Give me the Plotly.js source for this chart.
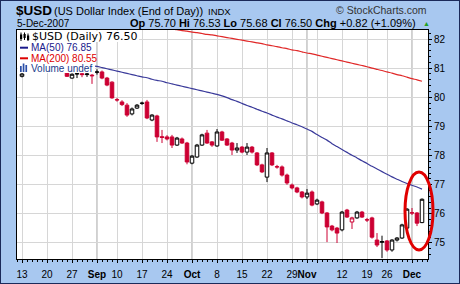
<!DOCTYPE html>
<html><head><meta charset="utf-8">
<script src="https://cdn.plot.ly/plotly-3.0.1.min.js"></script>
<style>
html,body{margin:0;padding:0;background:#a8c8f0;}
#wrap{position:relative;width:460px;height:284px;overflow:hidden;}
#chart{width:460px;height:284px;}
#frame{position:absolute;left:0;top:0;width:458px;height:282px;border:1px solid #1b2a5a;pointer-events:none;}
</style></head><body>
<div id="wrap"><div id="chart"></div><div id="frame"></div></div>
<script>
// ---- categories: trading days 13-Aug-2007 .. 5-Dec-2007 ----
const firstDay = '2007-08-13', lastDay = '2007-12-05';
const holidays = ['2007-09-03', '2007-11-22'];
const dates = [];
for (let d = new Date(firstDay + 'T00:00:00Z'); d <= new Date(lastDay + 'T00:00:00Z'); d.setUTCDate(d.getUTCDate() + 1)) {
  const wd = d.getUTCDay(), s = d.toISOString().slice(0, 10);
  if (wd !== 0 && wd !== 6 && holidays.indexOf(s) < 0) dates.push(s);
}

// ---- daily OHLC ----
const open  = [80.72,80.90,81.00,81.15,81.05,81.20,81.10,81.00,81.05,80.85,80.66,80.80,80.81,80.78,80.76,80.86,80.87,80.66,80.52,79.92,
               79.84,79.73,79.43,79.63,79.79,79.84,79.22,79.36,78.65,78.64,78.64,78.36,78.57,78.43,77.74,77.95,78.36,78.77,78.47,78.33,
               78.81,78.57,78.43,78.19,78.29,78.12,78.29,78.09,77.68,77.26,78.09,77.62,77.61,77.33,76.99,76.89,76.75,76.58,76.75,76.34,
               76.41,76.03,75.58,75.51,75.45,76.13,75.72,75.86,76.06,75.80,75.86,75.10,75.02,75.07,74.76,75.10,75.17,75.51,76.04,76.03,75.70];
const high  = [80.85,81.08,81.22,81.25,81.30,81.28,81.18,81.12,81.10,80.88,80.82,80.82,80.84,80.84,80.80,80.96,80.92,80.70,80.55,79.98,
               79.90,79.80,79.65,79.77,79.85,79.91,79.42,79.40,78.88,78.70,78.71,78.64,78.62,78.47,78.02,78.40,78.75,78.88,78.50,78.91,
               78.85,78.60,78.47,78.43,78.33,78.43,78.33,78.12,77.72,78.26,78.12,77.68,77.66,77.38,77.04,76.93,76.78,76.85,76.80,76.52,
               76.45,76.06,75.62,75.55,76.10,76.17,75.90,76.10,76.10,75.86,75.90,75.34,75.25,75.10,75.13,75.20,75.66,76.20,76.20,76.06,76.53];
const low   = [80.68,80.88,80.95,81.00,81.00,81.02,80.92,80.93,80.88,80.70,80.64,80.66,80.69,80.70,80.46,80.78,80.62,80.38,79.95,79.85,
               79.70,79.33,79.38,79.60,79.74,79.25,79.18,78.47,78.43,78.52,78.26,78.33,78.40,77.70,77.70,77.92,78.33,78.40,78.30,78.30,
               78.50,78.33,78.02,78.09,78.08,78.02,78.07,77.64,77.40,77.09,77.64,77.55,77.28,77.00,76.84,76.71,76.53,76.51,76.26,76.30,
               75.99,75.03,75.40,75.00,75.40,75.86,75.48,75.83,75.86,75.72,75.15,74.86,74.48,74.70,74.70,75.05,75.14,75.48,75.96,75.58,75.68];
const close = [80.80,81.00,81.15,81.05,81.20,81.10,81.00,81.05,80.95,80.72,80.79,80.81,80.78,80.80,80.74,80.87,80.66,80.42,79.98,79.91,
               79.75,79.39,79.60,79.73,79.80,79.29,79.39,78.64,78.62,78.57,78.36,78.60,78.43,77.78,77.98,78.36,78.71,78.43,78.36,78.81,
               78.53,78.36,78.19,78.26,78.12,78.29,78.12,77.68,77.44,78.09,77.68,77.61,77.33,77.06,76.89,76.75,76.58,76.71,76.30,76.47,
               76.03,75.55,75.45,75.34,76.06,75.89,75.86,76.06,75.89,75.79,75.20,74.93,75.05,74.76,75.10,75.17,75.62,76.16,76.03,75.68,76.50];
// ---- moving averages ----
const ma50  = [81.30,81.29,81.28,81.27,81.26,81.25,81.24,81.23,81.21,81.19,81.17,81.15,81.13,81.11,81.09,81.06,81.02,80.98,80.94,80.90,
               80.86,80.82,80.78,80.74,80.70,80.67,80.62,80.58,80.55,80.50,80.46,80.42,80.38,80.34,80.30,80.26,80.22,80.18,80.14,80.10,
               80.05,79.99,79.92,79.86,79.79,79.72,79.66,79.59,79.52,79.46,79.39,79.32,79.26,79.19,79.12,79.06,78.99,78.91,78.83,78.72,
               78.62,78.53,78.41,78.31,78.21,78.11,78.01,77.92,77.82,77.73,77.63,77.54,77.45,77.36,77.27,77.19,77.11,77.04,76.98,76.92,76.85];
const ma200 = [82.83,82.82,82.81,82.80,82.79,82.78,82.77,82.75,82.74,82.73,82.72,82.70,82.69,82.67,82.66,82.64,82.62,82.61,82.59,82.57,
               82.55,82.53,82.51,82.49,82.47,82.45,82.43,82.41,82.39,82.36,82.34,82.32,82.29,82.27,82.24,82.22,82.19,82.16,82.14,82.11,
               82.08,82.05,82.02,81.99,81.96,81.93,81.90,81.87,81.84,81.80,81.77,81.74,81.70,81.67,81.63,81.60,81.56,81.52,81.49,81.45,
               81.41,81.37,81.33,81.29,81.25,81.21,81.17,81.13,81.09,81.05,81.00,80.96,80.92,80.87,80.83,80.78,80.74,80.69,80.64,80.60,80.55];
const quoteChangePct = 1.09;
// ---- x tick labels ----
const tickDates = ['2007-08-13','2007-08-20','2007-08-27','2007-09-04','2007-09-10','2007-09-17','2007-09-24','2007-10-01','2007-10-08',
                   '2007-10-15','2007-10-22','2007-10-29','2007-11-01','2007-11-05','2007-11-12','2007-11-19','2007-11-26','2007-12-03'];
const tickText  = ['13','20','27','<b>Sep</b>','10','17','24','<b>Oct</b>','8','15','22','29','<b>Nov</b>','','12','19','26','<b>Dec</b>'];
const monthStarts = ['2007-09-04','2007-10-01','2007-11-01','2007-12-03'];
const yTicks = [75,76,77,78,79,80,81,82];

// ---- build ----
const idx = dates.map((_, i) => i);
const RED = '#cc0033', BLK = '#000000';
const sets = {black: [], red: []};
idx.forEach(i => { (i > 0 && close[i] < close[i - 1] ? sets.red : sets.black).push(i); });
function candle(list, col) {
  return {
    type: 'candlestick', x: list, open: list.map(i => open[i]), high: list.map(i => high[i]),
    low: list.map(i => low[i]), close: list.map(i => close[i]), hoverinfo: 'skip', showlegend: false,
    whiskerwidth: 0,
    increasing: {line: {color: col, width: 1}, fillcolor: '#ffffff'},
    decreasing: {line: {color: col, width: 1}, fillcolor: col}
  };
}
const traces = [
  {type: 'scatter', mode: 'lines', x: idx, y: ma200, line: {color: '#e02828', width: 1.2, shape: 'spline', smoothing: 0.6}, hoverinfo: 'skip', showlegend: false},
  {type: 'scatter', mode: 'lines', x: idx, y: ma50, line: {color: '#3a3a9a', width: 1.2, shape: 'spline', smoothing: 0.6}, hoverinfo: 'skip', showlegend: false},
  candle(sets.black, BLK),
  candle(sets.red, RED)
];

const M = {l: 17, r: 32, t: 30, b: 25};
const W = 460, H = 284, pw = W - M.l - M.r, ph = H - M.t - M.b;
const PX = x => (x - M.l) / pw, PY = y => (H - M.b - y) / ph;
const SANS = 'Liberation Sans, Arial, sans-serif', VER = 'DejaVu Sans, Verdana, sans-serif';
function ann(text, x, y, anchor, size, color, family) {
  return {text, x: PX(x), y: PY(y), xref: 'paper', yref: 'paper', xanchor: anchor, yanchor: 'middle',
          showarrow: false, borderpad: 0, font: {family: family || SANS, size, color: color || '#000'}};
}
const n = close.length - 1;
const chg = close[n] - close[n - 1];
const stats = '<b>Op</b> ' + open[n].toFixed(2) + ' <b>Hi</b> ' + high[n].toFixed(2) + ' <b>Lo</b> ' + low[n].toFixed(2) +
              ' <b>Cl</b> ' + close[n].toFixed(2) + ' <b>Chg</b> ' + (chg >= 0 ? '+' : '') + chg.toFixed(2) +
              ' (' + (chg >= 0 ? '+' : '') + quoteChangePct.toFixed(2) + '%)';
const lastDate = new Date(dates[n] + 'T00:00:00Z');
const mon = ['Jan','Feb','Mar','Apr','May','Jun','Jul','Aug','Sep','Oct','Nov','Dec'];
const dateStr = lastDate.getUTCDate() + '-' + mon[lastDate.getUTCMonth()] + '-' + lastDate.getUTCFullYear();

const annotations = [
  ann('<b>$USD</b>', 15, 11, 'left', 13.5),
  ann('(US Dollar Index (End of Day))', 52.5, 11, 'left', 11),
  ann('INDX', 207, 11.5, 'left', 9.5),
  ann('© StockCharts.com', 428, 10.5, 'right', 10.5, '#333'),
  ann(dateStr, 15.5, 23.5, 'left', 10),
  ann(stats, 417, 23.5, 'right', 11),
  ann('▲', 421.5, 23.5, 'left', 7, '#22a022'),
  ann('$USD (Daily) ' + close[n].toFixed(2), 31, 36.7, 'left', 11, '#000', VER),
  ann('MA(50) ' + ma50[n].toFixed(2), 29.5, 47.7, 'left', 10, '#1a1a8c'),
  ann('MA(200) ' + ma200[n].toFixed(2), 29.5, 58.3, 'left', 10, '#dd0000'),
  ann('Volume undef', 29.5, 68.3, 'left', 10, '#1a3c8c')
];
function rectPx(x0, y0, x1, y1, fill, line, layer) {
  return {type: 'rect', xref: 'paper', yref: 'paper', x0: PX(x0), x1: PX(x1), y0: PY(y1), y1: PY(y0),
          fillcolor: fill, line: line || {width: 0}, layer: layer || 'above'};
}
function linePx(x0, y0, x1, y1, color, w) {
  return {type: 'line', xref: 'paper', yref: 'paper', x0: PX(x0), x1: PX(x1), y0: PY(y0), y1: PY(y1),
          line: {color, width: w}, layer: 'above'};
}
const shapes = [];
monthStarts.forEach(d => {
  const i = dates.indexOf(d);
  shapes.push({type: 'line', xref: 'x', yref: 'paper', x0: i, x1: i, y0: 0, y1: 1, line: {color: '#a0a0a0', width: 1}, layer: 'below'});
});
shapes.push(rectPx(17.5, 30.5, 139, 42, '#ffffff'));
shapes.push(rectPx(17.5, 42, 95, 73, '#ffffff'));
// legend icons
shapes.push(linePx(21, 32.5, 21, 41, '#000', 1), rectPx(20, 34.5, 22.2, 39, '#000'));
shapes.push(linePx(24.5, 32.5, 24.5, 40, '#000', 1), rectPx(23.5, 34, 25.7, 38, '#000'));
shapes.push(linePx(28, 33.5, 28, 41, '#000', 1), rectPx(27, 35.5, 29.2, 40, '#000'));
shapes.push(linePx(20, 47.7, 28, 47.7, '#1a1a8c', 2));
shapes.push(linePx(20, 58.3, 28, 58.3, '#dd0000', 2));
shapes.push(rectPx(20, 66, 21.7, 72, '#2b4fa8'), rectPx(22.7, 63.5, 24.4, 72, '#2b4fa8'), rectPx(25.4, 65, 27.1, 72, '#2b4fa8'));
// highlight ellipse around the last sessions
shapes.push({type: 'circle', xref: 'paper', yref: 'paper', x0: PX(405), x1: PX(433), y0: PY(250), y1: PY(172),
             line: {color: '#e00000', width: 3}, layer: 'above'});

const layout = {
  width: W, height: H, margin: M, paper_bgcolor: '#a8c8f0', plot_bgcolor: '#ffffff',
  showlegend: false, boxgap: 0.25, boxgroupgap: 0.05,
  xaxis: {
    type: 'linear', range: [-1, 81.2], rangeslider: {visible: false}, fixedrange: true,
    tickmode: 'array', tickvals: tickDates.map(d => dates.indexOf(d)), ticktext: tickText, tickangle: 0,
    showgrid: true, gridcolor: '#d6d6d6', gridwidth: 1, zeroline: false,
    showline: true, linecolor: '#000', linewidth: 1, mirror: true,
    ticks: 'outside', ticklen: 3, tickcolor: '#000', ticklabelstandoff: 3,
    minor: {dtick: 1, tick0: 0, ticks: 'outside', ticklen: 2, tickcolor: '#000', showgrid: false},
    tickfont: {family: SANS, size: 10, color: '#000'}
  },
  yaxis: {
    side: 'right', range: [74.45, 82.31], fixedrange: true,
    tickmode: 'array', tickvals: yTicks, ticktext: yTicks.map(String), tickangle: 0,
    showgrid: true, gridcolor: '#d6d6d6', zeroline: false,
    showline: true, linecolor: '#000', linewidth: 1, mirror: true,
    ticks: 'outside', ticklen: 3, tickcolor: '#000',
    minor: {dtick: 0.2, tick0: 0, ticks: 'outside', ticklen: 2, tickcolor: '#000', showgrid: false},
    tickfont: {family: SANS, size: 10, color: '#000'}
  },
  annotations, shapes
};
Plotly.newPlot('chart', traces, layout, {staticPlot: true, displayModeBar: false});
</script>
</body></html>
